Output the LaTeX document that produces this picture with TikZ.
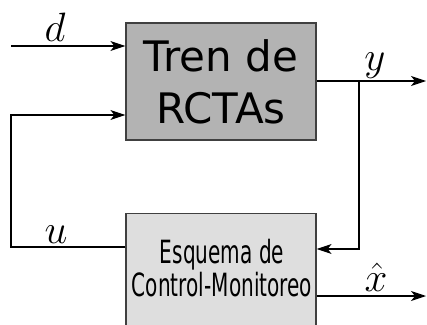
\RequirePackage{fix-cm}
\documentclass[tikz,border=0pt]{standalone}
\usepackage{fontspec}
\newfontfamily\dvsans{DejaVu Sans}
\usetikzlibrary{arrows.meta}
\definecolor{topfill}{RGB}{179,179,179}
\definecolor{botfill}{RGB}{222,222,222}
\definecolor{edge}{RGB}{64,64,64}
\tikzset{
  blockbox/.style={draw=edge, line width=1.2pt, minimum width=190pt, inner sep=0pt},
  conn/.style={line width=1.1pt, black},
  arr/.style={conn, -{Stealth[length=15pt,width=10pt,inset=4pt]}},
  mlabel/.style={anchor=base, inner sep=0pt, font=\fontsize{41}{48}\selectfont},
  cmline/.style={anchor=base, inner sep=0pt, font=\dvsans\fontsize{32}{36}\selectfont},
}
\begin{document}
\begin{tikzpicture}[x=1pt,y=1pt]
\useasboundingbox (0,0) rectangle (427,324);
\clip (0,0) rectangle (427,324);
% blocks
\node[blockbox, fill=topfill, minimum height=117pt, align=center,
      font=\dvsans\fontsize{42}{52}\selectfont] (tr) at (221,242.5) {Tren de\\RCTAs};
\node[blockbox, fill=botfill, minimum height=131pt, anchor=north] (cm) at (221,111) {};
\node[cmline] (cmta) at (222,61) {\scalebox{0.627}[1]{Esquema de}};
\node[cmline] (cmtb) at (222,28) {\scalebox{0.627}[1]{Control-Monitoreo}};
% free ends
\coordinate (din) at (11,278);
\coordinate (fbl) at (11,77);
\coordinate (fbu) at (11,209);
\coordinate (yend) at (426,243);
\coordinate (br) at (359,243);
\coordinate (brd) at (359,75);
\coordinate (xend) at (426,28);
% connectors
\draw[arr] (din) -- (tr.west |- din);
\draw[arr] (cm.west |- fbl) -- (fbl) -- (fbu) -- (tr.west |- fbu);
\draw[arr] (tr.east |- yend) -- (yend);
\draw[arr] (br) -- (brd) -- (cm.east |- brd);
\draw[arr] (cm.east |- xend) -- (xend);
% labels
\node[mlabel] (ld) at (55,282) {$d$};
\node[mlabel] (lu) at (56,81) {$u$};
\node[mlabel] (ly) at (375,253) {$y$};
\node[mlabel] (lx) at (376,33) {$\hat{x}$};
\end{tikzpicture}
\end{document}
